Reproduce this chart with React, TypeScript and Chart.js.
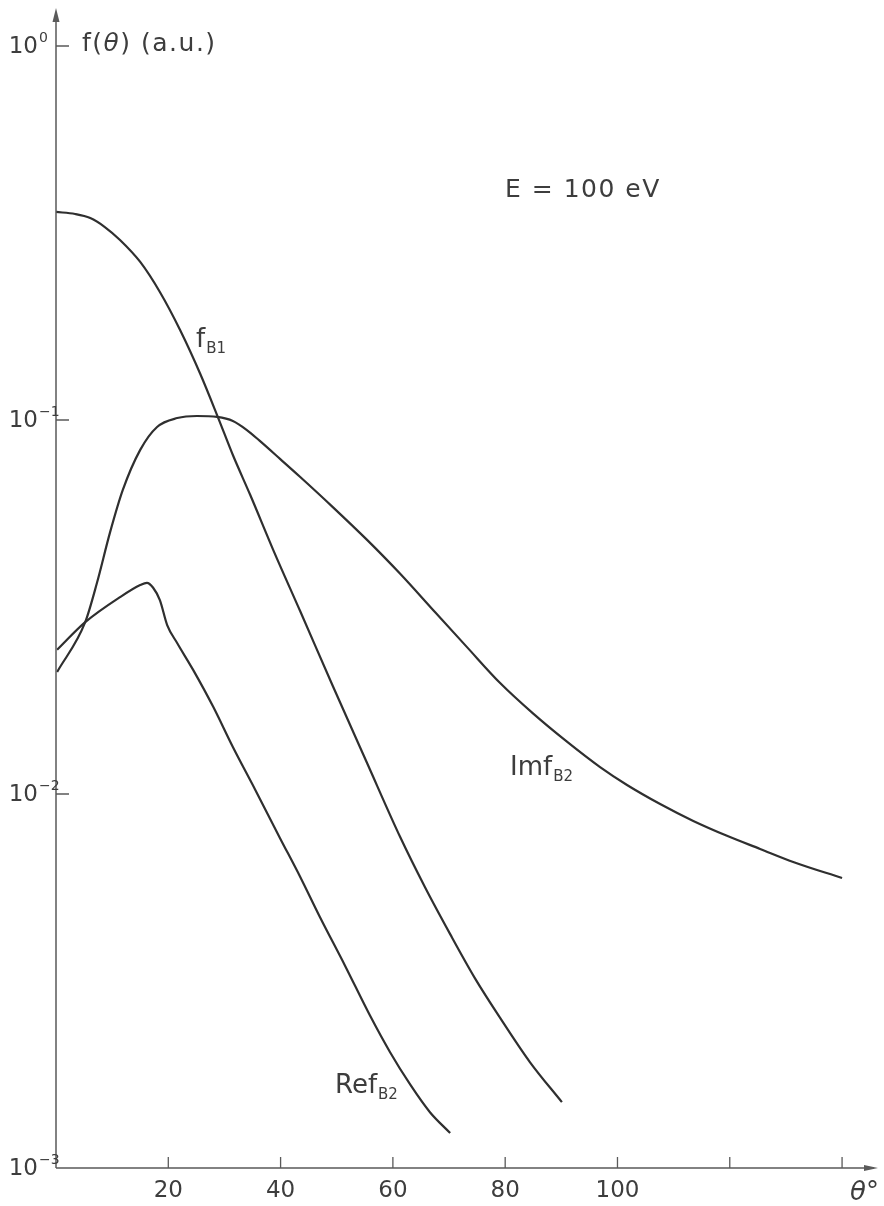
import { useEffect, useRef } from "react";
import { Chart, registerables } from "chart.js";

Chart.register(...registerables);

// θ in degrees, f(θ) in arbitrary units
const fB1Theta = [0, 3.4, 6.1, 8.7, 11.4, 15.0, 18.5, 22.1, 25.7, 28.9, 31.5, 34.6, 38.7, 43.5, 49.3, 55.4, 61.3, 65.7, 70.2, 74.6, 79.1, 84.4, 90.1];
const fB1Values = [0.36, 0.3555, 0.3467, 0.3281, 0.3029, 0.2646, 0.2199, 0.174, 0.1327, 0.1012, 0.0806, 0.063, 0.0449, 0.0308, 0.01944, 0.0121, 0.00767, 0.00564, 0.00422, 0.00322, 0.00252, 0.00192, 0.0015];

const imTheta = [0.2, 5.2, 7.3, 9.6, 11.9, 15.0, 18.0, 21.6, 25.1, 28.7, 31.5, 34.0, 36.3, 39.9, 43.5, 49.3, 55.4, 61.3, 67.2, 73.2, 79.1, 85.0, 91.0, 96.9, 101.7, 107.6, 113.5, 119.5, 125.4, 131.3, 140.0];
const imValues = [0.0212, 0.0288, 0.0367, 0.0499, 0.065, 0.0832, 0.0958, 0.1012, 0.1025, 0.1019, 0.0994, 0.094, 0.0879, 0.0787, 0.0704, 0.0585, 0.0478, 0.0388, 0.031, 0.0247, 0.0198, 0.0164, 0.0138, 0.0118, 0.01057, 0.0094, 0.00847, 0.00773, 0.00713, 0.00658, 0.00596];

const reTheta = [0.2, 5.2, 11.4, 15.0, 16.2, 17.3, 18.5, 19.8, 21.6, 24.4, 28.0, 31.5, 35.5, 39.9, 43.5, 47.0, 51.5, 55.9, 59.5, 63.1, 66.6, 70.2];
const reValues = [0.0243, 0.0288, 0.0336, 0.0362, 0.0367, 0.0356, 0.033, 0.0283, 0.0253, 0.0215, 0.0171, 0.01335, 0.01025, 0.00762, 0.006, 0.00469, 0.00347, 0.00256, 0.00204, 0.00167, 0.00141, 0.00124];

const xTickValues = [20, 40, 60, 80, 100, 120, 140];
const xTickLabels = ["20", "40", "60", "80", "100", "", ""];
const yTickValues = [1, 0.1, 0.01, 0.001];
const yTickExponents = ["0", "\u22121", "\u22122", "\u22123"];

const FONT = "'DejaVu Sans', sans-serif";
const TEXT = "#3d3d3d";
const LINE = "#2f2f2f";
const AXIS = "#5a5a5a";

const axisPlugin = {
  id: "paperAxes",
  afterDraw(chart: any) {
    const ctx: any = chart.ctx;
    const xs = chart.scales.x;
    const ys = chart.scales.y;
    const { left, top, right, bottom } = chart.chartArea;
    ctx.save();
    // axes
    ctx.strokeStyle = AXIS;
    ctx.lineWidth = 1.5;
    ctx.beginPath();
    ctx.moveTo(left, bottom);
    ctx.lineTo(left, top + 4);
    ctx.moveTo(left, bottom);
    ctx.lineTo(right - 4, bottom);
    ctx.stroke();
    ctx.fillStyle = AXIS;
    ctx.beginPath();
    ctx.moveTo(left, top);
    ctx.lineTo(left - 3.5, top + 14);
    ctx.lineTo(left + 3.5, top + 14);
    ctx.closePath();
    ctx.fill();
    ctx.beginPath();
    ctx.moveTo(right, bottom);
    ctx.lineTo(right - 14, bottom - 3);
    ctx.lineTo(right - 14, bottom + 3);
    ctx.closePath();
    ctx.fill();

    // x ticks
    ctx.lineWidth = 1.3;
    ctx.beginPath();
    xTickValues.forEach((v) => {
      const px = xs.getPixelForValue(v);
      ctx.moveTo(px, bottom);
      ctx.lineTo(px, bottom - 11);
    });
    ctx.stroke();
    ctx.fillStyle = TEXT;
    ctx.font = `23px ${FONT}`;
    ctx.textAlign = "center";
    ctx.textBaseline = "middle";
    xTickValues.forEach((v, i) => {
      if (!xTickLabels[i]) return;
      ctx.fillText(xTickLabels[i], xs.getPixelForValue(v), bottom + 23);
    });

    // y ticks
    ctx.beginPath();
    yTickValues.forEach((v) => {
      if (v === 0.001) return;
      const py = ys.getPixelForValue(v);
      ctx.moveTo(left, py);
      ctx.lineTo(left + 13, py);
    });
    ctx.stroke();
    yTickValues.forEach((v, i) => {
      const py = ys.getPixelForValue(v);
      ctx.font = `23px ${FONT}`;
      ctx.textAlign = "right";
      ctx.textBaseline = "middle";
      ctx.fillText("10", 38, py + 1);
      ctx.font = `14px ${FONT}`;
      ctx.textAlign = "left";
      ctx.fillText(yTickExponents[i], 39, py - 8);
    });

    // axis title f(θ) (a.u.)
    ctx.textAlign = "left";
    ctx.textBaseline = "middle";
    ctx.letterSpacing = "1.5px";
    const ty = ys.getPixelForValue(1) - 1;
    let tx = 82;
    ctx.font = `25px ${FONT}`;
    ctx.fillText("f(", tx, ty);
    tx += ctx.measureText("f(").width;
    ctx.font = `italic 25px ${FONT}`;
    ctx.fillText("\u03B8", tx, ty);
    tx += ctx.measureText("\u03B8").width;
    ctx.font = `25px ${FONT}`;
    ctx.fillText(") (a.u.)", tx, ty);

    // energy label
    ctx.font = `25px ${FONT}`;
    ctx.fillText("E = 100 eV", 505, 190);
    ctx.letterSpacing = "0px";

    // curve labels
    ctx.textBaseline = "alphabetic";
    const label = (main: string, sub: string, x: number, y: number, subSize: number) => {
      ctx.font = `26px ${FONT}`;
      ctx.fillText(main, x, y);
      const w = ctx.measureText(main).width;
      ctx.font = `${subSize}px ${FONT}`;
      ctx.fillText(sub, x + w + 1, y + 6);
    };
    label("f", "B1", 196, 347, 15);
    label("Imf", "B2", 510, 775, 15);
    label("Ref", "B2", 335, 1093, 15);

    // x axis title
    ctx.font = `italic 26px ${FONT}`;
    ctx.fillText("\u03B8\u00B0", 850, 1200);
    ctx.restore();
  },
};

export default function App() {
  const canvasRef = useRef<HTMLCanvasElement | null>(null);

  useEffect(() => {
    if (!canvasRef.current) return;
    const mk = (theta: number[], vals: number[]) => theta.map((t, i) => ({ x: t, y: vals[i] }));
    const common = {
      borderColor: LINE,
      borderWidth: 2.2,
      pointRadius: 0,
      fill: false,
      cubicInterpolationMode: "monotone" as const,
    };
    const chart = new Chart(canvasRef.current, {
      type: "line",
      data: {
        datasets: [
          { label: "fB1", data: mk(fB1Theta, fB1Values), ...common },
          { label: "Im fB2", data: mk(imTheta, imValues), ...common },
          { label: "Re fB2", data: mk(reTheta, reValues), ...common },
        ],
      },
      options: {
        responsive: false,
        animation: false,
        devicePixelRatio: 1,
        layout: { padding: { top: 8, right: 6, left: 0, bottom: 0 } },
        plugins: { legend: { display: false }, tooltip: { enabled: false } },
        scales: {
          x: {
            type: "linear",
            min: 0,
            max: 146.4,
            grid: { display: false },
            border: { display: false },
            ticks: { display: false },
            afterFit: (s: any) => {
              s.height = 38;
            },
          },
          y: {
            type: "logarithmic",
            min: 0.001,
            max: Math.pow(10, 0.1016),
            grid: { display: false },
            border: { display: false },
            ticks: { display: false },
            afterFit: (s: any) => {
              s.width = 56;
            },
          },
        },
      },
      plugins: [axisPlugin],
    } as any);
    return () => chart.destroy();
  }, []);

  return (
    <div style={{ position: "absolute", left: 0, top: 0, width: 884, height: 1206, background: "#fff" }}>
      <canvas ref={canvasRef} width={884} height={1206} style={{ display: "block" }} />
    </div>
  );
}
